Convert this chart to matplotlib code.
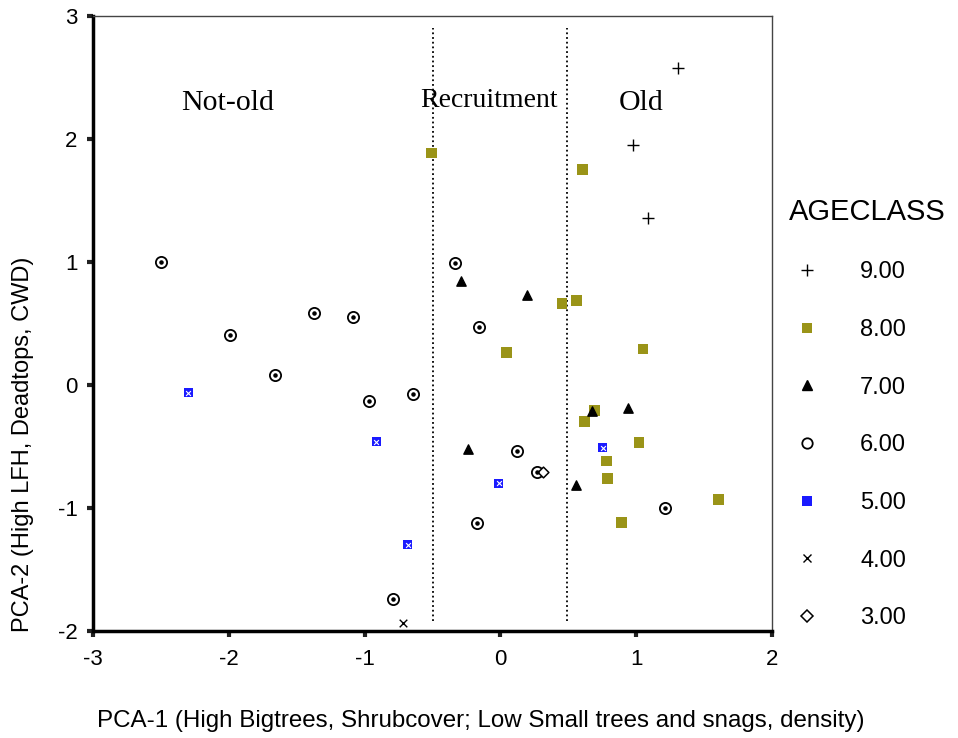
import matplotlib
matplotlib.use('Agg')
import matplotlib.pyplot as plt
from matplotlib.lines import Line2D

plt.rcParams['axes.unicode_minus'] = False

# PCA scores per age class
x9 = [1.31, 0.975, 1.088]
y9 = [2.575, 1.949, 1.36]

x8 = [-0.51, 0.602, 0.454, 0.56, 0.047, 1.049, 0.695, 0.617, 1.021, 0.779, 0.791, 0.892, 1.603]
y8 = [1.886, 1.754, 0.664, 0.689, 0.266, 0.293, -0.209, -0.298, -0.469, -0.618, -0.759, -1.116, -0.929]

x7 = [-0.287, 0.197, 0.671, 0.938, -0.238, 0.557]
y7 = [0.848, 0.729, -0.209, -0.19, -0.52, -0.813]

x6 = [-2.50, -1.374, -1.089, -1.995, -1.659, -0.967, -0.645, -0.333, -0.161, 0.123, 0.27, -0.174, -0.79, 1.213]
y6 = [1.00, 0.583, 0.553, 0.409, 0.079, -0.133, -0.076, 0.989, 0.474, -0.539, -0.707, -1.12, -1.737, -1.0]

x5 = [-2.30, -0.915, -0.012, -0.684, 0.752]
y5 = [-0.065, -0.461, -0.80, -1.30, -0.512]

x4 = [-0.72]
y4 = [-1.935]

x3 = [0.31]
y3 = [-0.707]

# boundaries between the stand groups
cuts = [-0.5, 0.49]
zones = ['Not-old', 'Recruitment', 'Old']
zone_x = [-2.01, -0.085, 1.034]
zone_y = [2.29, 2.31, 2.29]
zone_size = [21.5, 20, 21.5]

OLIVE = '#9a9418'
BLUE = '#1a1aff'

fig = plt.figure(figsize=(9.58, 7.38), dpi=100)
ax = fig.add_axes([0.0971, 0.145, 0.7088, 0.8333])

ax.set_xlim(-3, 2)
ax.set_ylim(-2, 3)

ax.vlines(cuts, -1.92, 2.9, colors='black', linestyles=(0, (1, 1.6)), linewidth=1.3)

for name, zx, zy, fs in zip(zones, zone_x, zone_y, zone_size):
    ax.text(zx, zy, name, ha='center', va='center', fontsize=fs,
            family='Liberation Serif')

ax.scatter(x9, y9, marker='+', s=70, color='black', linewidths=1.0, zorder=3)
ax.scatter(x8, y8, marker='s', s=60, color=OLIVE, edgecolors='none', zorder=3)
ax.scatter(x7, y7, marker='^', s=45, color='black', zorder=3)
ax.scatter(x6, y6, marker='o', s=65, facecolors='white', edgecolors='black', linewidths=1.3, zorder=3)
ax.scatter(x6, y6, marker='o', s=5, color='black', zorder=4)
ax.scatter(x5, y5, marker='s', s=42, color=BLUE, edgecolors='none', zorder=3)
ax.scatter(x5, y5, marker='x', s=12, color='white', linewidths=0.8, zorder=4)
ax.scatter(x4, y4, marker='x', s=30, color='black', linewidths=1.0, zorder=3)
ax.scatter(x3, y3, marker='D', s=30, facecolors='white', edgecolors='black', linewidths=1.1, zorder=3)

ax.set_xticks([-3, -2, -1, 0, 1, 2])
ax.set_yticks([-2, -1, 0, 1, 2, 3])
ax.tick_params(direction='out', length=4, width=3, color='#222222', labelsize=16)
ax.tick_params(axis='x', pad=9)
ax.tick_params(axis='y', pad=7)
for lab in ax.get_xticklabels() + ax.get_yticklabels():
    lab.set_family('Liberation Sans')

for side in ['left', 'bottom']:
    ax.spines[side].set_linewidth(2.5)
for side in ['top', 'right']:
    ax.spines[side].set_linewidth(1.0)
    ax.spines[side].set_color('#444444')

ax.set_xlabel('PCA-1 (High Bigtrees, Shrubcover; Low Small trees and snags, density)',
              fontsize=17.4, family='Liberation Sans')
ax.set_ylabel('PCA-2 (High LFH, Deadtops, CWD)', fontsize=17, family='Liberation Sans')
ax.xaxis.set_label_coords(0.571, -0.128)
ax.yaxis.set_label_coords(-0.087, 0.304)

handles = [
    Line2D([], [], marker='+', color='black', ls='none', markersize=9, markeredgewidth=1.0),
    Line2D([], [], marker='s', color=OLIVE, ls='none', markersize=7.5, markeredgewidth=0),
    Line2D([], [], marker='^', color='black', ls='none', markersize=7),
    Line2D([], [], marker='o', markerfacecolor='white', markeredgecolor='black', ls='none',
           markersize=7.5, markeredgewidth=1.3),
    Line2D([], [], marker='s', color=BLUE, ls='none', markersize=6.5, markeredgewidth=0),
    Line2D([], [], marker='x', color='black', ls='none', markersize=6, markeredgewidth=1.0),
    Line2D([], [], marker='D', markerfacecolor='white', markeredgecolor='black', ls='none',
           markersize=6, markeredgewidth=1.1),
]
labels = ['9.00', '8.00', '7.00', '6.00', '5.00', '4.00', '3.00']
leg = fig.legend(handles, labels, title='AGECLASS', loc='upper left',
                 bbox_to_anchor=(0.824, 0.732), frameon=False,
                 prop={'family': 'Liberation Sans', 'size': 17},
                 title_fontproperties={'family': 'Liberation Sans', 'size': 21},
                 handlelength=1.45, handletextpad=1.55, labelspacing=1.51,
                 borderaxespad=0, borderpad=0)
leg._legend_box.align = 'left'

fig.savefig('out.png', dpi=100)
